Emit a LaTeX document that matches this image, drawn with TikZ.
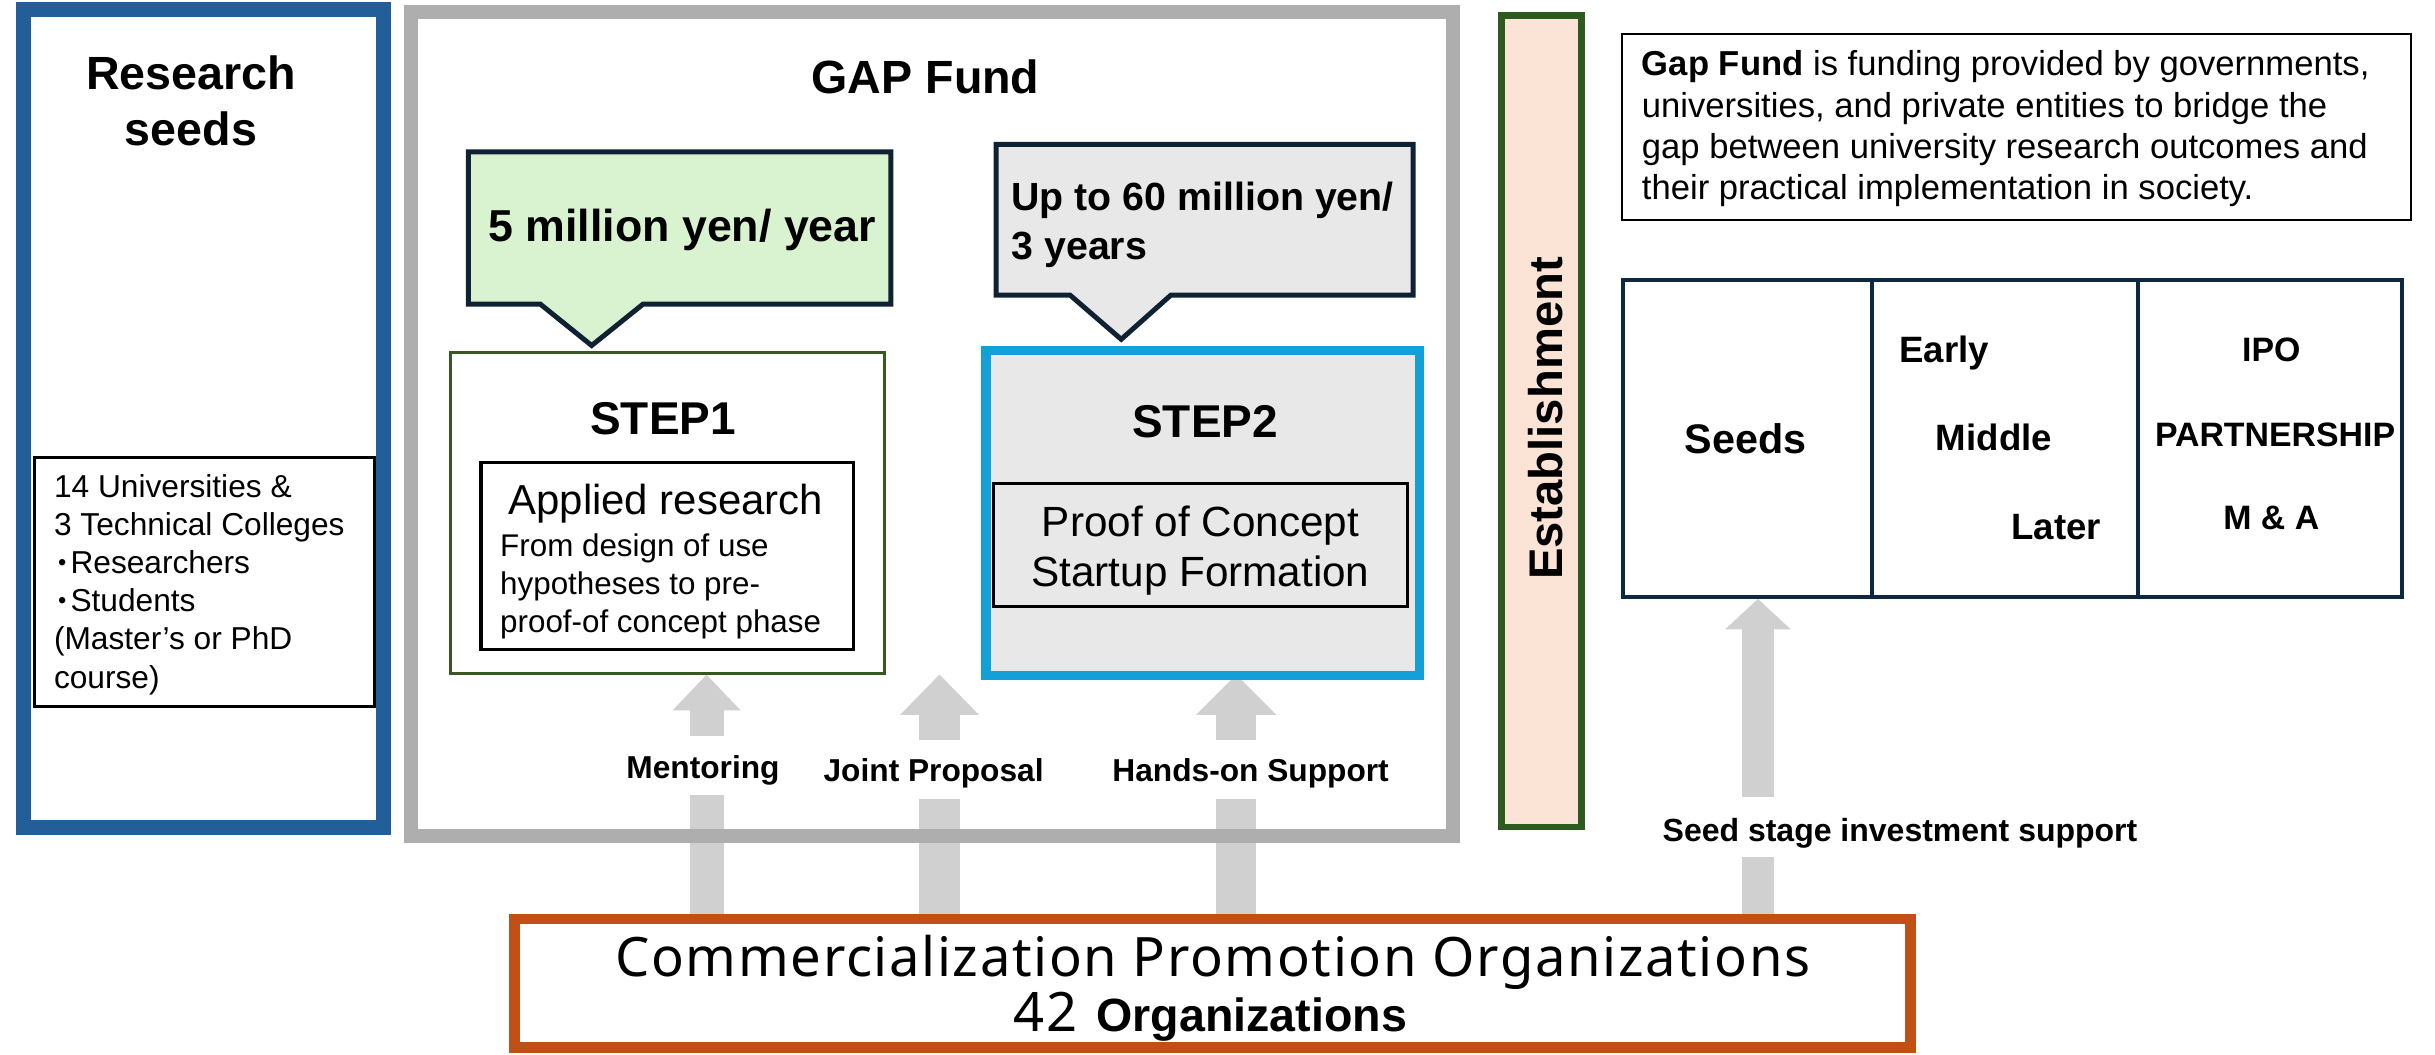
\documentclass[tikz,border=0pt]{standalone}
\usepackage{fontspec}
\setmainfont{Liberation Sans}
\newfontfamily\orgfont{Noto Sans}[LetterSpace=3]
\usetikzlibrary{arrows.meta}
\definecolor{bluebd}{RGB}{34,94,153}
\definecolor{graybd}{RGB}{174,174,174}
\definecolor{navy}{RGB}{14,34,51}
\definecolor{greenfill}{RGB}{217,242,208}
\definecolor{stepgreen}{RGB}{56,87,35}
\definecolor{stepblue}{RGB}{18,160,215}
\definecolor{mygray}{RGB}{232,232,232}
\definecolor{arrowgray}{RGB}{208,208,208}
\definecolor{estgreen}{RGB}{45,90,30}
\definecolor{estfill}{RGB}{251,227,214}
\definecolor{tablenavy}{RGB}{14,40,65}
\definecolor{orangebd}{RGB}{192,80,22}
\newcommand\fs[2]{\fontsize{#1}{#2}\selectfont}
\newcommand\dotm{\makebox[0.52em][c]{\raisebox{1pt}{\fontsize{7.6}{8}\selectfont •}}}
\begin{document}
\begin{tikzpicture}[x=0.5pt,y=-0.5pt,
  bx/.style={inner sep=0pt},
  txt/.style={inner sep=0pt},
  shaft/.style={draw=arrowgray, line width=#1},
  callout/.style={draw=navy, line width=1.6pt},
  cell/.style={draw=tablenavy, line width=1.25pt, inner sep=0pt, minimum height=102.1pt}
]
\useasboundingbox (0,0) rectangle (1568,679);

% coordinates for arrows
\coordinate (m0) at (455,512);
\coordinate (j0) at (605,514.8);
\coordinate (h0) at (796,514.8);
\coordinate (sd0) at (1132,552);
\coordinate (m1) at (455,473.8);
\coordinate (j1) at (605,476.4);
\coordinate (h1) at (796,476.4);
\coordinate (sd1) at (1132,513.4);
\coordinate (jtip) at (605,434.4);
\coordinate (htip) at (796,434.4);

% orange organisations box (node placed first for references)
\path node[bx, minimum width=449.5pt, minimum height=41.5pt, line width=3.5pt] (org) at (781,633.3) {};

% lower shafts
\draw[shaft=11pt] (m0) -- (m0 |- org.north);
\draw[shaft=13pt] (j0) -- (j0 |- org.north);
\draw[shaft=13pt] (h0) -- (h0 |- org.north);
\draw[shaft=10.35pt] (sd0) -- (sd0 |- org.north);

% Research seeds
\node[bx, draw=bluebd, line width=5pt, minimum width=116pt, minimum height=263.5pt] (rs) at (131,269.5) {};
\node[txt, font=\fs{15}{18.1}\bfseries, align=center, anchor=base] (rstitle) at (123,94) {Research\\seeds};
\node[bx, draw=black, line width=1pt, minimum width=109.5pt, minimum height=80.25pt] (unibox) at (131.5,374.75) {};
\node[txt, font=\fs{10.2}{12.3}, align=left, anchor=base west] (unitext) at (34.4,443.1)
  {14 Universities \&\\3 Technical Colleges\\\dotm Researchers\\\dotm Students\\(Master’s or PhD\\course)};

% GAP Fund
\node[bx, draw=graybd, line width=4.5pt, minimum width=335.5pt, minimum height=265.5pt] (gap) at (600,273) {};
\node[txt, font=\fs{15}{18}\bfseries, anchor=base] (gaptitle) at (596,60.2) {GAP Fund};

% callouts
\draw[callout, fill=greenfill] (301.6,97.8) -- (573.6,97.8) -- (573.6,195.9) -- (414,195.9) -- (381,222.5) -- (348,195.9) -- (301.6,195.9) -- cycle;
\node[txt, font=\fs{14.4}{17}\bfseries, anchor=base] (amt1) at (439.3,155.2) {5 million yen/ year};
\draw[callout, fill=mygray] (641.5,93) -- (910,93) -- (910,190) -- (754,190) -- (722,218.5) -- (689,190) -- (641.5,190) -- cycle;
\node[txt, font=\fs{12.65}{15.9}\bfseries, align=left, anchor=base west] (amt2) at (651,167.4) {Up to 60 million yen/\\3 years};

% upper arrows
\draw[shaft=11pt, -{Triangle[length=11.5pt,width=22pt,line width=0pt]}] (m1) -- (455,434.5);
\draw[shaft=13pt, -{Triangle[length=13pt,width=25.5pt,line width=0pt]}] (j1) -- (jtip);
\draw[shaft=13pt, -{Triangle[length=13pt,width=26pt,line width=0pt]}] (h1) -- (htip);

% STEP1
\node[bx, draw=stepgreen, fill=white, line width=1pt, minimum width=139.6pt, minimum height=103.25pt] (s1) at (429.9,330.25) {};
\node[txt, font=\fs{14.8}{17}\bfseries, anchor=base] (s1t) at (427,279.7) {STEP1};
\node[bx, draw=black, line width=1pt, minimum width=120pt, minimum height=60.2pt] (s1in) at (429.7,358) {};
\node[txt, font=\fs{13.5}{16}, anchor=base] (s1a) at (428.7,331.1) {Applied research};
\node[txt, font=\fs{10.1}{12.35}, align=left, anchor=base west] (s1b) at (321.7,407.5) {From design of use\\hypotheses to pre-\\proof-of concept phase};

% STEP2
\node[bx, draw=stepblue, fill=mygray, line width=3pt, minimum width=139.5pt, minimum height=104.75pt] (s2) at (774.5,330.25) {};
\node[txt, font=\fs{14.8}{17}\bfseries, anchor=base] (s2t) at (776,281.7) {STEP2};
\node[bx, draw=black, fill=mygray, line width=1pt, minimum width=133.25pt, minimum height=39.55pt] (s2in) at (773.25,350.75) {};
\node[txt, font=\fs{13.6}{16.25}, align=center, anchor=base] (s2a) at (773,377.9) {Proof of Concept\\Startup Formation};

% arrow labels
\node[txt, font=\fs{10.2}{12}\bfseries, anchor=base] (lm) at (452.7,501.2) {Mentoring};
\node[txt, font=\fs{10.2}{12}\bfseries, anchor=base] (lj) at (601.2,503.3) {Joint Proposal};
\node[txt, font=\fs{10.2}{12}\bfseries, anchor=base] (lh) at (805.3,503.3) {Hands-on Support};

% Establishment
\node[bx, draw=estgreen, fill=estfill, line width=2pt, minimum width=25.8pt, minimum height=261.2pt] (est) at (992.6,271.2) {};
\node[txt, rotate=90, anchor=base, font=\fs{15.2}{18}\bfseries] (estt) at (1005.9,269.5) {Establishment};

% definition
\node[bx, draw=black, line width=0.75pt, minimum width=254pt, minimum height=60pt] (def) at (1298.4,81.85) {};
\node[txt, font=\fs{11.15}{13.3}, align=left, anchor=base west] (deft) at (1056.9,128.7)
  {\textbf{Gap Fund} is funding provided by governments,\\universities, and private entities to bridge the\\gap between university research outcomes and\\their practical implementation in society.};

% stage table
\node[cell, minimum width=80.1pt] (c1) at (1125.35,282.35) {};
\node[cell, minimum width=85.5pt] (c2) at (1291,282.35) {};
\node[cell, minimum width=85pt] (c3) at (1461.75,282.35) {};
\node[txt, font=\fs{13.3}{16}\bfseries, anchor=base] (seedst) at (1124,292.2) {Seeds};
\node[txt, font=\fs{11.8}{14}\bfseries, anchor=base west] (early) at (1222.7,233.5) {Early};
\node[txt, font=\fs{11.8}{14}\bfseries, anchor=base] (middle) at (1284,290) {Middle};
\node[txt, font=\fs{11.8}{14}\bfseries, anchor=base] (later) at (1324,347.1) {Later};
\node[txt, font=\fs{10.9}{13}\bfseries, anchor=base] (ipo) at (1462.6,232.8) {IPO};
\node[txt, font=\fs{10.9}{13}\bfseries, anchor=base] (partner) at (1465,287.8) {PARTNERSHIP};
\node[txt, font=\fs{10.9}{13}\bfseries, anchor=base] (ma) at (1462.6,340.8) {M \& A};

% seed arrow
\draw[shaft=10.35pt, -{Triangle[length=9.8pt,width=21.2pt,line width=0pt]}] (sd1) -- (sd1 |- c1.south);
\node[txt, font=\fs{10.3}{12}\bfseries, anchor=base] (seedlab) at (1223.5,541.7) {Seed stage investment support};

% organisations box drawn
\node[bx, draw=orangebd, fill=white, line width=3.5pt, minimum width=449.5pt, minimum height=41.5pt] (orgbox) at (org) {};
\node[txt, font=\orgfont\fs{17.5}{20}, anchor=base] (orgt1) at (781,629) {Commercialization Promotion Organizations};
\node[txt, anchor=base] (orgt2) at (779.4,664) {{\orgfont\fs{17.5}{20}42}\hspace{6pt}{\fs{15}{18}\bfseries Organizations}};
\end{tikzpicture}
\end{document}
